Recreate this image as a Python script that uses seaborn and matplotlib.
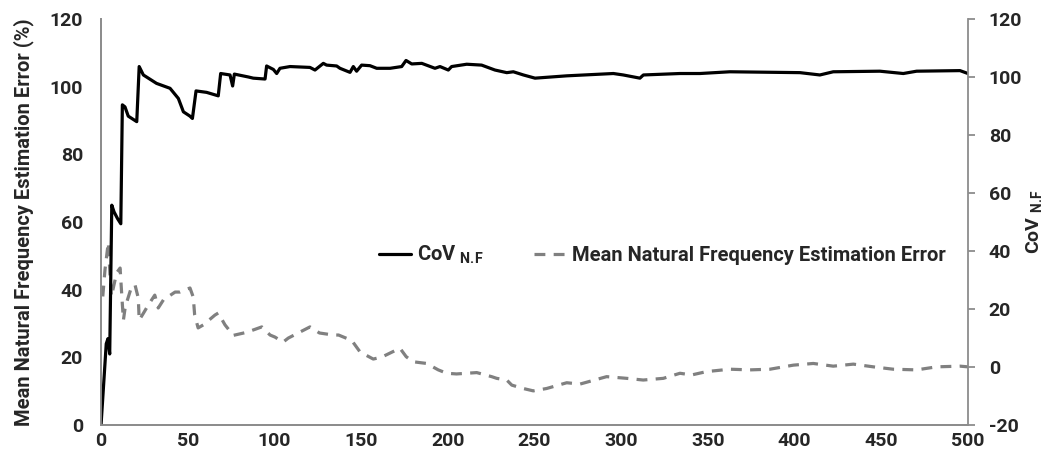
import matplotlib
matplotlib.use("Agg")
import matplotlib.pyplot as plt
import seaborn as sns

# ---------------- data ----------------
samples_cov = [0, 1.5, 3, 4, 5, 6.2, 7.5, 9.5, 11.4, 12.3, 13.8, 15.7, 20.6, 22, 24.4,
               32, 39.8, 44.6, 47.5, 51.3, 52.7, 54.8, 60.9, 67.6, 69, 74.4, 75.9, 76.9,
               85, 87.8, 94.6, 95.5, 99.4, 101.3, 103.2, 109, 120.5, 123.4, 128.2, 130.1,
               135.9, 137.8, 143.6, 145.5, 147.4, 150.3, 155.1, 159, 166.7, 173.4, 175.9,
               179.2, 185, 192.6, 195.5, 200.3, 202.2, 210.9, 219.5, 227.2, 234, 237.8,
               243.6, 250.3, 268.6, 295.5, 301.2, 310.8, 312.8, 333.9, 345.4, 362.7,
               403.1, 414.6, 422.3, 449.2, 462.7, 470.4, 495.4, 500]
cov_nf = [-20, -6, 8, 9.8, 4.5, 55.8, 53.5, 51.2, 49.4, 90.4, 89.7, 86.5, 84.6, 103.6,
          100.7, 97.8, 96.1, 92.6, 88.0, 86.5, 85.7, 95.2, 94.7, 93.5, 101.2, 100.7, 96.9,
          101.0, 100.0, 99.6, 99.3, 103.8, 102.6, 101.2, 103.0, 103.6, 103.3, 102.4, 104.7,
          104.1, 103.8, 103.0, 101.6, 103.6, 102.0, 104.1, 103.9, 103.0, 103.0, 103.6,
          105.7, 104.5, 104.7, 103.0, 103.6, 102.4, 103.6, 104.4, 104.1, 102.4, 101.5,
          101.8, 100.7, 99.6, 100.4, 101.2, 100.7, 99.6, 100.7, 101.2, 101.2, 101.8,
          101.5, 100.7, 101.8, 102.0, 101.2, 102.0, 102.2, 101.2]

samples_err = [1, 2.3, 4.2, 5.2, 6, 9, 11, 12, 12.9, 14, 17.7, 19.6, 21.5, 22, 24.4, 27.3,
               31, 33, 36, 42.7, 45.5, 51.3, 53.2, 54, 56, 59, 65.7, 67.6, 71.5, 76.3, 84,
               92.7, 97.5, 100.3, 105, 108, 116.7, 120.5, 126, 134, 137, 144.6, 149.4, 157,
               162, 172.4, 176, 180, 187.8, 194.5, 199.4, 205, 216.7, 225.3, 228.2, 234,
               236.9, 243.5, 249.3, 257, 268.6, 276.2, 291.6, 303.2, 312.7, 324.3, 333.9,
               340.6, 349.3, 362.7, 374.3, 385.8, 399.3, 410.8, 422.3, 433.9, 445.4, 456.9,
               470.4, 481.9, 495.4, 500]
mean_err = [38, 46, 54, 44, 38, 45, 46.4, 38, 31, 35, 41, 41.4, 37.5, 31, 33, 35.5, 38.4,
            34.6, 37, 39.3, 39.3, 40.5, 37.8, 32.5, 28.7, 29.6, 32.5, 33.1, 29.6, 26.5,
            27.4, 29, 26.6, 26, 24.5, 25.7, 28, 29, 27.2, 26.6, 26.6, 25, 21.6, 19.5, 20.1,
            22.7, 20.2, 18.7, 18.2, 16.3, 15.3, 15.1, 15.5, 14.3, 13.8, 13.3, 11.8, 10.8,
            10.1, 10.8, 12.5, 12.1, 14.3, 13.8, 13.3, 13.8, 15.3, 14.8, 15.8, 16.5, 16.3,
            16.5, 17.7, 18.2, 17.4, 18, 17.2, 16.5, 16.3, 17.2, 17.4, 17.2]

x_ticks = [0, 50, 100, 150, 200, 250, 300, 350, 400, 450, 500]
left_ticks = [0, 20, 40, 60, 80, 100, 120]
right_ticks = [-20, 0, 20, 40, 60, 80, 100, 120]

label_cov = r"CoV $\mathregular{_{N.\!F}}$"
label_err = "Mean Natural Frequency Estimation Error"
ylabel_left = "Mean Natural Frequency Estimation Error (%)"

# ---------------- style ----------------
sns.set_style("white")
plt.rcParams['font.family'] = ['Roboto', 'DejaVu Sans']
plt.rcParams['font.weight'] = 'bold'
plt.rcParams['mathtext.fontset'] = 'custom'
plt.rcParams['mathtext.rm'] = 'Roboto:bold'
plt.rcParams['mathtext.bf'] = 'Roboto:bold'
plt.rcParams['axes.unicode_minus'] = False

spine_col = '#8c8c8c'
fs = 14

fig = plt.figure(figsize=(10.47, 4.62), dpi=100)
ax = fig.add_axes([0.0965, 0.080, 0.828, 0.8789])
ax2 = ax.twinx()

sns.lineplot(x=samples_err, y=mean_err, ax=ax, color='#808080', lw=2.3,
             estimator=None, label=label_err, legend=False)
ax.lines[0].set_dashes([3.4, 2.6])
sns.lineplot(x=samples_cov, y=cov_nf, ax=ax2, color='black', lw=2.3,
             estimator=None, label=label_cov, legend=False)

ax.set_xlim(0, 500)
ax.set_ylim(0, 120)
ax2.set_ylim(-20, 120)
ax.set_xticks(x_ticks)
ax.set_yticks(left_ticks)
ax2.set_yticks(right_ticks)

for a in (ax, ax2):
    a.spines['top'].set_visible(False)
    for s in ('left', 'right', 'bottom'):
        a.spines[s].set_color(spine_col)
        a.spines[s].set_linewidth(1.3)
ax.spines['right'].set_visible(False)

ax.tick_params(axis='y', length=0, pad=13, labelsize=fs)
ax.tick_params(axis='x', length=0, pad=5, labelsize=fs)
ax2.tick_params(axis='y', length=5, width=1.3, color=spine_col, direction='out',
                pad=10, labelsize=fs)

ax.set_ylabel(ylabel_left, fontsize=14.5, fontweight='bold', labelpad=11)
ax2.set_ylabel(label_cov, fontsize=14, fontweight='bold')
ax2.yaxis.set_label_coords(1.065, 0.5)

h_err = ax.lines[0]
h_cov = ax2.lines[0]
ax2.legend([h_cov, h_err], [label_cov, label_err], ncol=2, frameon=False,
           loc='center', bbox_to_anchor=(0.6476, 0.419), fontsize=14.5,
           handlelength=1.6, columnspacing=2.5, handletextpad=0.3)

fig.savefig("out.png", dpi=100)
